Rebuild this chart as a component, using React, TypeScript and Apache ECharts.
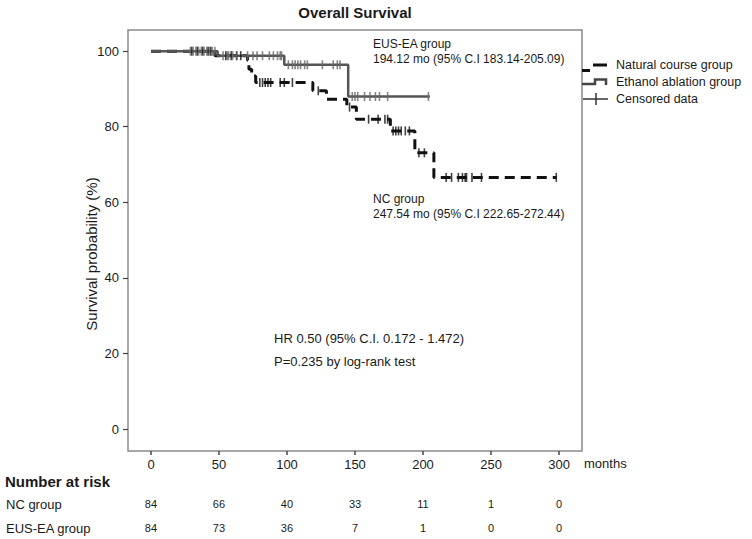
import React, { useEffect, useRef } from "react";
import * as echarts from "echarts";

// ---- data ----
const xTicks = [0, 50, 100, 150, 200, 250, 300];
const yTicks = [0, 20, 40, 60, 80, 100];

// Kaplan-Meier steps: [months, survival %] (value after the event)
const ncSteps: [number, number][] = [
  [0, 100], [47, 98.8], [71, 97.6], [72, 95.2], [74, 93.4], [77, 91.7],
  [119, 89.5], [129, 87.3], [144, 85.2], [151, 82.0], [176, 78.9],
  [194, 73.1], [208, 66.6], [298, 66.6],
];
const eaSteps: [number, number][] = [
  [0, 100], [49, 98.8], [98, 96.4], [145, 88.0], [205, 88.0],
];

// censoring times (months)
const ncCensored = [30, 34, 38, 42, 44, 55, 59, 63, 66, 80, 82, 84, 86, 88, 95, 98, 104, 123, 146, 160, 167, 172, 174, 178, 180, 182, 184, 187, 190, 197, 201, 217, 221, 226, 229, 231, 232, 236, 243, 298];
const eaCensored = [29, 31, 33, 35, 37, 39, 41, 43, 45, 47, 53, 56, 57, 60, 63, 71, 75, 78, 82, 87, 90, 93, 95, 96, 101, 104, 106, 108, 110, 113, 115, 126, 134, 137, 139, 148, 150, 152, 157, 161, 165, 168, 174, 204];

const riskGroups = ["NC group", "EUS-EA group"];
const riskNC = [84, 66, 40, 33, 11, 1, 0];
const riskEA = [84, 73, 36, 7, 1, 0, 0];

const FONT = "Liberation Sans, Arial, Helvetica, sans-serif";
const TXT = "#1a1a1a";

function survAt(steps: [number, number][], t: number): number {
  let s = steps[0][1];
  for (const [time, v] of steps) {
    if (time <= t) s = v;
  }
  return s;
}

export default function App() {
  const ref = useRef<HTMLDivElement>(null);
  useEffect(() => {
    if (!ref.current) return;
    const chart = echarts.init(ref.current, undefined, { renderer: "svg" });

    const baseGraphics: any[] = [
      {
        type: "text", id: "title", x: 355, y: 12,
        style: { text: "Overall Survival", fontFamily: FONT, fontSize: 15, fontWeight: "bold", fill: TXT, align: "center", verticalAlign: "middle" },
      },
      {
        type: "text", id: "yname", x: 91, y: 254, rotation: Math.PI / 2,
        style: { text: "Survival probability (%)", fontFamily: FONT, fontSize: 15, fill: TXT, align: "center", verticalAlign: "middle" },
      },
      // legend icons
      { type: "line", id: "lg1a", shape: { x1: 582, y1: 70.5, x2: 590, y2: 70.5 }, style: { stroke: "#111", lineWidth: 3 } },
      { type: "line", id: "lg1b", shape: { x1: 593, y1: 65, x2: 607, y2: 65 }, style: { stroke: "#111", lineWidth: 3 } },
      { type: "polyline", id: "lg2", shape: { points: [[582, 84], [595, 84], [595, 79.5], [606, 79.5], [606, 85]] }, style: { stroke: "#444", lineWidth: 2.5, fill: "none" } },
      { type: "line", id: "lg3a", shape: { x1: 583, y1: 99, x2: 608, y2: 99 }, style: { stroke: "#333", lineWidth: 1.5 } },
      { type: "line", id: "lg3b", shape: { x1: 596, y1: 93, x2: 596, y2: 105 }, style: { stroke: "#333", lineWidth: 1.5 } },
      { type: "text", id: "lt1", x: 616, y: 65, style: { text: "Natural course group", fontFamily: FONT, fontSize: 12.5, fill: TXT, verticalAlign: "middle" } },
      { type: "text", id: "lt2", x: 616, y: 82, style: { text: "Ethanol ablation group", fontFamily: FONT, fontSize: 12.5, fill: TXT, verticalAlign: "middle" } },
      { type: "text", id: "lt3", x: 616, y: 99, style: { text: "Censored data", fontFamily: FONT, fontSize: 12.5, fill: TXT, verticalAlign: "middle" } },
      // annotations
      { type: "text", id: "a1", x: 373, y: 44, style: { text: "EUS-EA group", fontFamily: FONT, fontSize: 12, fill: TXT, verticalAlign: "middle" } },
      { type: "text", id: "a2", x: 373, y: 59, style: { text: "194.12 mo (95% C.I 183.14-205.09)", fontFamily: FONT, fontSize: 12, fill: TXT, verticalAlign: "middle" } },
      { type: "text", id: "a3", x: 373, y: 199, style: { text: "NC group", fontFamily: FONT, fontSize: 12, fill: TXT, verticalAlign: "middle" } },
      { type: "text", id: "a4", x: 373, y: 214, style: { text: "247.54 mo (95% C.I 222.65-272.44)", fontFamily: FONT, fontSize: 12, fill: TXT, verticalAlign: "middle" } },
      { type: "text", id: "hr", x: 274, y: 338, style: { text: "HR 0.50 (95% C.I. 0.172 - 1.472)", fontFamily: FONT, fontSize: 13, fill: TXT, verticalAlign: "middle" } },
      { type: "text", id: "pv", x: 274, y: 361, style: { text: "P=0.235 by log-rank test", fontFamily: FONT, fontSize: 13, fill: TXT, verticalAlign: "middle" } },
      { type: "text", id: "months", x: 584, y: 463, style: { text: "months", fontFamily: FONT, fontSize: 13, fill: TXT, verticalAlign: "middle" } },
      // risk table headers
      { type: "text", id: "nar", x: 5, y: 481, style: { text: "Number at risk", fontFamily: FONT, fontSize: 15, fontWeight: "bold", fill: TXT, verticalAlign: "middle" } },
      { type: "text", id: "g1", x: 6, y: 504, style: { text: riskGroups[0], fontFamily: FONT, fontSize: 13, fill: TXT, verticalAlign: "middle" } },
      { type: "text", id: "g2", x: 6, y: 528, style: { text: riskGroups[1], fontFamily: FONT, fontSize: 13, fill: TXT, verticalAlign: "middle" } },
    ];

    const option: any = {
      animation: false,
      backgroundColor: "#ffffff",
      grid: { left: 128, top: 30, right: 170, bottom: 88, show: true, borderColor: "#8a8a8a", borderWidth: 1.5, backgroundColor: "transparent" },
      xAxis: {
        type: "value", min: -16.9, max: 316.9,
        axisLine: { show: false, onZero: false },
        splitLine: { show: false },
        axisTick: { show: true, length: 4, customValues: xTicks, lineStyle: { color: "#444", width: 1.5 } },
        axisLabel: { customValues: xTicks, margin: 7, fontSize: 13, fontFamily: FONT, color: TXT },
      },
      yAxis: {
        type: "value", min: -5.8, max: 105.6,
        axisLine: { show: false, onZero: false },
        splitLine: { show: false },
        axisTick: { show: true, length: 5, customValues: yTicks, lineStyle: { color: "#444", width: 1.2 } },
        axisLabel: { customValues: yTicks, margin: 9, fontSize: 13, fontFamily: FONT, color: TXT },
      },
      series: [
        {
          name: "NC", type: "line", step: "end", data: ncSteps, showSymbol: false,
          lineStyle: { color: "#111", width: 3, type: [10, 6] }, z: 2,
        },
        {
          name: "EA", type: "line", step: "end", data: eaSteps, showSymbol: false,
          lineStyle: { color: "#555", width: 2.5 }, z: 3,
        },
        {
          name: "NC censored", type: "scatter", symbol: "rect", symbolSize: [1.6, 9],
          data: ncCensored.map((t) => [t, survAt(ncSteps, t)]),
          itemStyle: { color: "#111" }, z: 4,
        },
        {
          name: "EA censored", type: "scatter", symbol: "rect", symbolSize: [1.6, 9],
          data: eaCensored.map((t) => [t, survAt(eaSteps, t)]),
          itemStyle: { color: "#666" }, z: 5,
        },
      ],
      graphic: baseGraphics,
    };
    chart.setOption(option);

    const tableGraphics: any[] = [];
    xTicks.forEach((t, i) => {
      const px = chart.convertToPixel({ xAxisIndex: 0 }, t) as number;
      tableGraphics.push({
        type: "text", id: "rn" + i, x: px, y: 504,
        style: { text: String(riskNC[i]), fontFamily: FONT, fontSize: 11, fill: TXT, align: "center", verticalAlign: "middle" },
      });
      tableGraphics.push({
        type: "text", id: "re" + i, x: px, y: 528,
        style: { text: String(riskEA[i]), fontFamily: FONT, fontSize: 11, fill: TXT, align: "center", verticalAlign: "middle" },
      });
    });
    chart.setOption({ graphic: [...baseGraphics, ...tableGraphics] });

    return () => chart.dispose();
  }, []);
  return (
    <div
      ref={ref}
      style={{ position: "fixed", left: 0, top: 0, width: 752, height: 539 }}
    />
  );
}
